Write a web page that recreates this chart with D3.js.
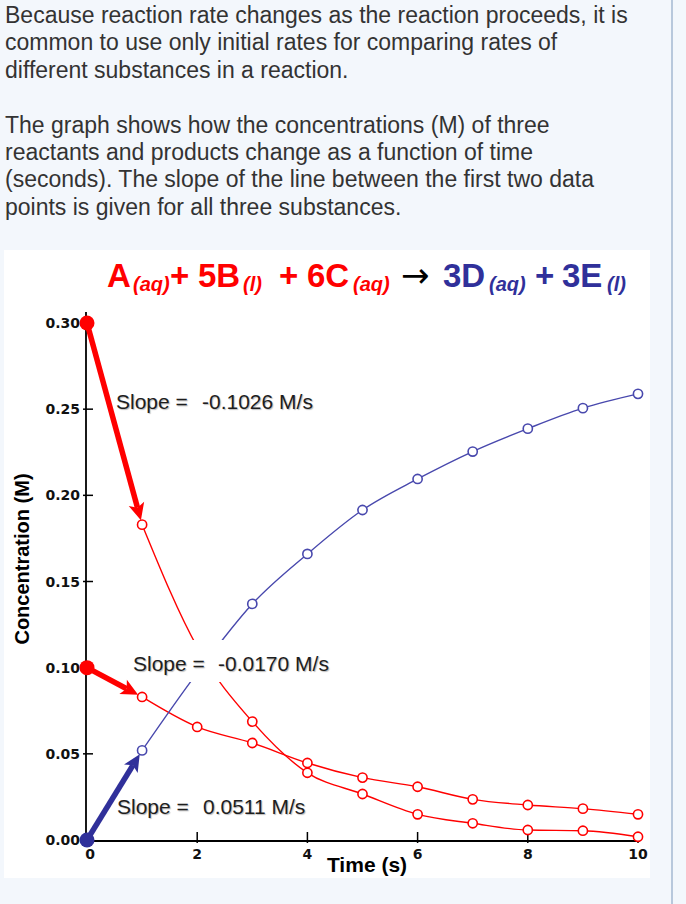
<!DOCTYPE html>
<html><head><meta charset="utf-8">
<script src="https://cdn.jsdelivr.net/npm/d3@7"></script>
<style>
html,body{margin:0;padding:0;background:#f3f7fc;}
svg{display:block;}
text{font-family:"Liberation Sans",Arial,Helvetica,sans-serif;}
</style></head><body>
<svg id="c" width="686" height="904"></svg>
<script>
// ---------- data ----------
const times   = [0, 1, 2, 3, 4, 5, 6, 7, 8, 9, 10];
const seriesA = [0.300, 0.183, 0.112, 0.0687, 0.039, 0.0267, 0.0149, 0.0097, 0.0058, 0.0054, 0.0019];
const seriesC = [0.100, 0.083, 0.0656, 0.0563, 0.0447, 0.0362, 0.0309, 0.0236, 0.0203, 0.0182, 0.0149];
const seriesD = [0.000, 0.052, 0.097, 0.137, 0.166, 0.1915, 0.2095, 0.2254, 0.2387, 0.2506, 0.2589];
const xTicks = [0, 2, 4, 6, 8, 10];
const yTicks = [0, 0.05, 0.10, 0.15, 0.20, 0.25, 0.30];
const slopeValues = ["-0.1026 M/s", "-0.0170 M/s", "0.0511 M/s"];
const paraLines = [
  "Because reaction rate changes as the reaction proceeds, it is",
  "common to use only initial rates for comparing rates of",
  "different substances in a reaction.",
  "",
  "The graph shows how the concentrations (M) of three",
  "reactants and products change as a function of time",
  "(seconds). The slope of the line between the first two data",
  "points is given for all three substances."
];
const titlePieces = [
  {t:"A", k:"m", c:"r"}, {t:"(aq)", k:"s", c:"r"}, {t:"+", k:"m", c:"r"},
  {t:"5B", k:"m", c:"r"}, {t:"(l)", k:"s", c:"r"}, {t:"+", k:"m", c:"r"},
  {t:"6C", k:"m", c:"r"}, {t:"(aq)", k:"s", c:"r"}, {t:"\u2192", k:"a", c:"k"},
  {t:"3D", k:"m", c:"b"}, {t:"(aq)", k:"s", c:"b"}, {t:"+", k:"m", c:"b"},
  {t:"3E", k:"m", c:"b"}, {t:"(l)", k:"s", c:"b"}
];
// ---------- layout ----------
const svg = d3.select("#c");
const RED = "#ff0000", BLUE_LINE = "#4848ad", BLUE = "#30309a";

// page paragraph text
svg.selectAll("text.para").data(paraLines).join("text")
  .attr("class","para")
  .attr("x", 5).attr("y", (d,i)=>23 + i*27.4)
  .attr("font-size", 23).attr("fill", "#333").text(d=>d);

// right border
svg.append("line").attr("x1",672).attr("x2",672).attr("y1",0).attr("y2",904)
  .attr("stroke","#b8c8dc").attr("stroke-width",2);

// white panel
svg.append("rect").attr("x",4).attr("y",250).attr("width",646).attr("height",628).attr("fill","#fff");

// title equation
const titleX = [107, 133, 170, 198, 243, 279, 307, 353, 401, 443, 489, 535, 562, 607];
const colMap = {r:RED, b:BLUE, k:"#000"};
svg.append("g").selectAll("text").data(titlePieces).join("text")
  .attr("x", (d,i)=>titleX[i])
  .attr("y", d=> d.k==="s" ? 291 : 287)
  .attr("font-size", d=> d.k==="s" ? 20 : (d.k==="a" ? 34 : 33))
  .attr("font-weight", d=> d.k==="m" || d.k==="s" ? "bold" : "normal")
  .attr("font-style", d=> d.k==="s" ? "italic" : "normal")
  .style("font-family", d=> d.k==="a" ? '"DejaVu Sans",sans-serif' : null)
  .attr("fill", d=>colMap[d.c])
  .text(d=>d.t);

// scales
const x = d3.scaleLinear().domain([0,10]).range([87,638]);
const y = d3.scaleLinear().domain([0,0.30]).range([840,323]);

// axes
const tickFont = '"DejaVu Sans",Verdana,sans-serif';
const axG = svg.append("g");
axG.append("line").attr("x1",x(0)-1).attr("x2",x(0)-1).attr("y1",312).attr("y2",y(0)+1)
  .attr("stroke","#000").attr("stroke-width",1.8);
axG.append("line").attr("x1",x(0)-2).attr("x2",x(10)+2).attr("y1",y(0)+1).attr("y2",y(0)+1)
  .attr("stroke","#000").attr("stroke-width",1.8);
axG.selectAll("line.yt").data(yTicks.slice(1)).join("line").attr("class","yt")
  .attr("x1",x(0)-4).attr("x2",x(0)+6).attr("y1",d=>y(d)).attr("y2",d=>y(d))
  .attr("stroke","#000").attr("stroke-width",1.5);
axG.selectAll("text.yl").data(yTicks).join("text").attr("class","yl")
  .attr("x",80).attr("y",d=>y(d)).attr("dy","0.36em").attr("text-anchor","end")
  .attr("font-size",14).attr("font-weight","bold").attr("fill","#111")
  .style("font-family", tickFont)
  .text(d3.format(".2f"));
axG.selectAll("line.xt").data(xTicks.slice(1)).join("line").attr("class","xt")
  .attr("x1",d=>x(d)).attr("x2",d=>x(d)).attr("y1",y(0)-8).attr("y2",y(0)+3)
  .attr("stroke","#000").attr("stroke-width",1.5);
axG.selectAll("text.xl").data(xTicks).join("text").attr("class","xl")
  .attr("x",d=>x(d)+ (d===0?3:0)).attr("y",y(0)+19).attr("text-anchor","middle")
  .attr("font-size",14).attr("font-weight","bold").attr("fill","#111")
  .style("font-family", tickFont)
  .text(d=>d);
axG.append("text").attr("x",367).attr("y",872).attr("text-anchor","middle")
  .attr("font-size",21).attr("font-weight","bold").attr("fill","#000").text("Time (s)");
axG.append("text").attr("transform","translate(29,559) rotate(-90)").attr("text-anchor","middle")
  .attr("font-size",20).attr("font-weight","bold").attr("fill","#000").text("Concentration (M)");

// thin curves (from first open point onward)
const line = d3.line().x(d=>x(d[0])).y(d=>y(d[1])).curve(d3.curveMonotoneX);
const series = [
  {vals:seriesA, col:RED},
  {vals:seriesC, col:RED},
  {vals:seriesD, col:BLUE_LINE}
];
series.forEach(s=>{
  const pts = times.map((t,i)=>[t, s.vals[i]]).slice(1);
  svg.append("path").attr("d", line(pts)).attr("fill","none")
    .attr("stroke", s.col).attr("stroke-width",1.4);
});
// open circles
series.forEach(s=>{
  svg.append("g").selectAll("circle").data(times.slice(1)).join("circle")
    .attr("cx", t=>x(t)).attr("cy", (t,i)=>y(s.vals[i+1])).attr("r",4.6)
    .attr("fill","#fff").attr("stroke", s.col).attr("stroke-width",1.6);
});

// label box for middle label
svg.append("rect").attr("x",128).attr("y",640).attr("width",210).attr("height",42).attr("fill","#fff");

// slope labels
const labelPos = [{x:116, v:202, y:409}, {x:133, v:218, y:671}, {x:117, v:203, y:814}];
labelPos.forEach((p,i)=>{
  svg.append("text").attr("x",p.x).attr("y",p.y).attr("font-size",21).attr("fill","#1e1e1e")
    .attr("style","text-shadow:1px 1px 1px #bbb").text("Slope =");
  svg.append("text").attr("x",p.v).attr("y",p.y).attr("font-size",21).attr("fill","#1e1e1e")
    .attr("style","text-shadow:1px 1px 1px #bbb").text(slopeValues[i]);
});

// thick arrows between first two points
function arrow(x0,y0,x1,y1,col){
  const dx=x1-x0, dy=y1-y0, L=Math.hypot(dx,dy), ux=dx/L, uy=dy/L;
  const tx=x1-ux*4.5, ty=y1-uy*4.5;
  const hl=17, hw=8;
  const bx=tx-ux*hl, by=ty-uy*hl;
  svg.append("line").attr("x1",x0).attr("y1",y0).attr("x2",bx+ux*4).attr("y2",by+uy*4)
    .attr("stroke",col).attr("stroke-width",5.5);
  svg.append("path")
    .attr("d",`M${tx},${ty}L${bx-uy*hw},${by+ux*hw}L${bx+ux*4},${by+uy*4}L${bx+uy*hw},${by-ux*hw}Z`)
    .attr("fill",col);
}
series.forEach(s=>{
  const c = s.col===RED ? RED : BLUE;
  arrow(x(times[0]), y(s.vals[0]), x(times[1]), y(s.vals[1]), c);
});
// filled start dots
series.forEach(s=>{
  svg.append("circle").attr("cx",x(times[0])).attr("cy",y(s.vals[0])).attr("r",7.5)
    .attr("fill", s.col===RED ? RED : BLUE);
});
</script>
</body></html>
